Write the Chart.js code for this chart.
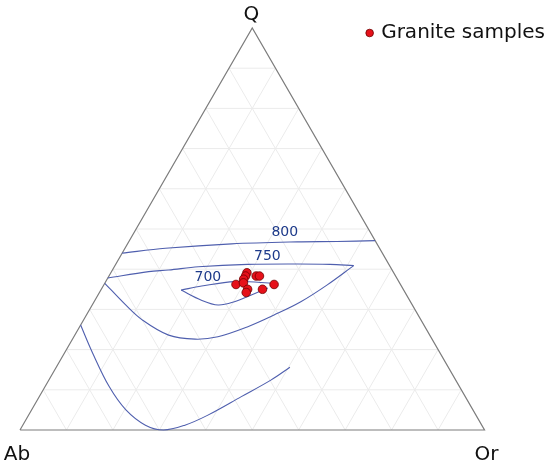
<!DOCTYPE html>
<html>
<head>
<meta charset="utf-8">
<script src="https://cdn.jsdelivr.net/npm/chart.js@4.4.0/dist/chart.umd.min.js"></script>
<style>
  body { margin: 0; background: #fff; }
</style>
</head>
<body>
<canvas id="myChart" width="550" height="466"></canvas>
<script>
    // datos: composiciones en % (Ab = 100 - Q - Or)

const vertexLabels = ['Q', 'Ab', 'Or'];
const gridSteps = [10, 20, 30, 40, 50, 60, 70, 80, 90];

const sampleQ  = [39.1, 38.3, 37.5, 38.3, 38.3, 36.2, 36.6, 36.2, 35.0, 35.0, 34.2];
const sampleOr = [29.3, 29.4, 29.4, 31.7, 32.4, 28.4, 29.8, 36.6, 34.7, 31.5, 31.6];

const iso800Q  = [44.0, 45.2, 46.3, 46.8, 46.9, 47.1];
const iso800Or = [0, 8.7, 22.4, 36.3, 44.8, 52.9];

const iso750UpQ  = [37.8, 39.4, 39.8, 40.6, 41.2, 41.3, 41.2, 40.9];
const iso750UpOr = [0, 8.0, 12.1, 18.1, 28.4, 39.1, 46.1, 51.4];
const iso750LowQ  = [40.9, 36.1, 31.9, 28.6, 25.7, 23.2, 22.6, 23.6, 27.4, 31.1, 36.5];
const iso750LowOr = [51.4, 48.1, 44.5, 40.4, 36.2, 31.0, 26.4, 20.2, 12.6, 7.2, 0];

const iso700UpQ  = [36.5, 36.9, 35.8, 34.8];
const iso700UpOr = [36.5, 27.8, 21.2, 17.3];
const iso700LowQ  = [34.8, 32.3, 31.1, 31.9, 33.6, 35.3];
const iso700LowOr = [17.3, 22.9, 27.1, 30.2, 33.0, 35.7];

const isoBottomQ  = [26.1, 19.1, 10.8, 5.0, 1.2, 0, 1.2, 3.7, 8.3, 12.4, 15.6];
const isoBottomOr = [0, 6.1, 13.8, 20.3, 26.4, 30.9, 34.9, 38.6, 43.5, 47.8, 50.3];

const isoLabels  = ['800', '750', '700'];
const isoLabelQ  = [49.2, 43.3, 37.9];
const isoLabelOr = [32.4, 31.6, 21.5];

    // ternario -> x,y

function toXY(q, or) {
    return { x: or + q / 2, y: q };
}

function serie(qs, ors) {
    return qs.map((q, i) => toXY(q, ors[i]));
}

const lineColor = '#4f5fae';
const datasets = [];

datasets.push({
    label: 'Granite samples',
    data: serie(sampleQ, sampleOr),
    backgroundColor: '#e6111a',
    borderColor: '#6e0000',
    borderWidth: 0.8,
    pointRadius: 4.3,
    clip: false
});

function isoLine(qs, ors) {
    datasets.push({
        label: 'iso',
        data: serie(qs, ors),
        showLine: true,
        borderColor: lineColor,
        borderWidth: 1.1,
        pointRadius: 0,
        tension: 0.35,
        clip: false
    });
}
isoLine(iso800Q, iso800Or);
isoLine(iso750UpQ, iso750UpOr);
isoLine(iso750LowQ, iso750LowOr);
isoLine(iso700UpQ, iso700UpOr);
isoLine(iso700LowQ, iso700LowOr);
isoLine(isoBottomQ, isoBottomOr);

    // triangulo

datasets.push({
    label: 'frame',
    data: [toXY(0, 0), toXY(100, 0), toXY(0, 100), toXY(0, 0)],
    showLine: true,
    borderColor: '#7c7c7c',
    borderWidth: 1.2,
    pointRadius: 0,
    clip: false
});

    // grilla

gridSteps.forEach(s => {
    const lines = [
        [toXY(s, 0), toXY(s, 100 - s)],
        [toXY(0, s), toXY(100 - s, s)],
        [toXY(0, 100 - s), toXY(100 - s, 0)]
    ];
    lines.forEach(l => {
        datasets.push({
            label: 'grid',
            data: l,
            showLine: true,
            borderColor: '#ebebeb',
            borderWidth: 1,
            pointRadius: 0,
            clip: false
        });
    });
});

    // textos de vertices e isotermas

const textos = {
    id: 'textos',
    afterDatasetsDraw(chart) {
        const { ctx, scales: { x, y } } = chart;
        ctx.save();
        ctx.textAlign = 'center';
        ctx.textBaseline = 'middle';
        ctx.font = '20px "DejaVu Sans"';
        ctx.fillStyle = '#111';
        const corners = [toXY(100, 0), toXY(0, 0), toXY(0, 100)];
        const offsets = [[-1, -13], [-3, 25], [2, 25]];
        corners.forEach((c, i) => {
            ctx.fillText(vertexLabels[i], x.getPixelForValue(c.x) + offsets[i][0], y.getPixelForValue(c.y) + offsets[i][1]);
        });
        ctx.font = '14px "DejaVu Sans"';
        ctx.fillStyle = '#1d3a8a';
        isoLabels.forEach((t, i) => {
            const p = toXY(isoLabelQ[i], isoLabelOr[i]);
            ctx.fillText(t, x.getPixelForValue(p.x), y.getPixelForValue(p.y));
        });
        ctx.restore();
    }
};

let myChart = new Chart(document.getElementById('myChart').getContext('2d'), {
    type: 'scatter',
    data: { datasets },
    options: {
        responsive: false,
        animation: false,
        devicePixelRatio: 1,
        layout: { padding: { left: 20, right: 0, top: 0, bottom: 36 } },
        scales: {
            x: { type: 'linear', min: 0, max: 113, display: false },
            y: { type: 'linear', min: 0, max: 95.02, display: false }
        },
        plugins: {
            tooltip: { enabled: false },
            legend: {
                position: 'top',
                align: 'end',
                maxHeight: 48,
                title: { display: true, text: '', font: { size: 10, lineHeight: 1.2 }, padding: 3 },
                labels: {
                    filter: item => item.text === 'Granite samples',
                    usePointStyle: true,
                    boxWidth: 3,
                    boxHeight: 5.4,
                    padding: 5,
                    color: '#111',
                    font: { family: 'DejaVu Sans', size: 20 }
                }
            }
        }
    },
    plugins: [textos]
});
</script>
</body>
</html>
